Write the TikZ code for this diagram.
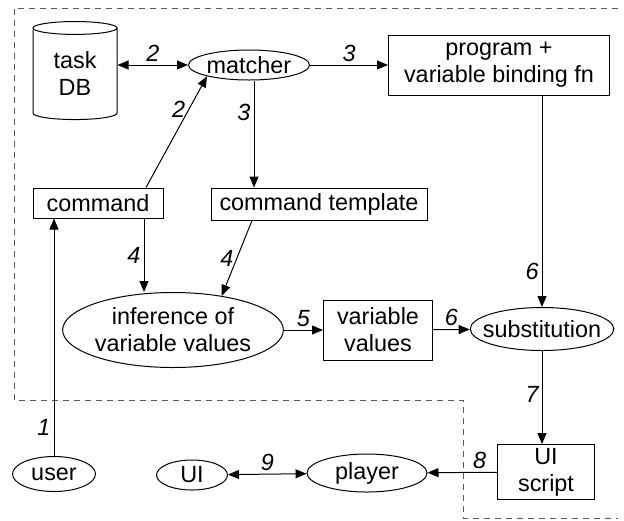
\documentclass[tikz,border=0pt]{standalone}
\usepackage{fontspec}
\setmainfont{Liberation Sans}
\usetikzlibrary{shapes.geometric,arrows.meta}

\begin{document}
\begin{tikzpicture}
	[x=0.5pt, y=-0.5pt, line width=0.5pt,
	font=\fontsize{11.7}{13.5}\selectfont,
	>={Triangle[length=5.5pt,width=4.5pt]},
	box/.style={rectangle,draw=black, inner sep=0pt, align=center},
	oval/.style={ellipse,draw=black, inner sep=0pt, align=center},
	store/.style={cylinder, shape border rotate=90, aspect=0.3, draw=black, inner sep=0pt, minimum width=42pt, minimum height=49pt, align=center},
	lbl/.style={font=\fontsize{11.7}{13.5}\selectfont\itshape, inner sep=1.5pt},
	frame/.style={dashed, dash pattern=on 3pt off 2.5pt, draw=black!65}]

	\useasboundingbox (0,0) rectangle (624,520);

	% inside the dashed frame
	\node (db) at ( 75,74 ) [store] {task\\DB};
	\node (mat) at ( 249,65 ) [oval, minimum width=60.5pt, minimum height=15pt] {matcher};
	\node (prog) at ( 499,65 ) [box, minimum width=110.5pt, minimum height=30pt] {program +\\variable binding fn};
	\node (cmd) at ( 98,203 ) [box, minimum width=65pt, minimum height=15pt] {command};
	\node (tmpl) at ( 319,204 ) [box, minimum width=108pt, minimum height=16pt] {command template};
	\node (inf) at ( 173,330 ) [oval, minimum width=109pt, minimum height=37.5pt] {inference of\\variable values};
	\node (vals) at ( 378,330 ) [box, minimum width=54.5pt, minimum height=30pt] {variable\\values};
	\node (subst) at ( 542,329 ) [oval, inner xsep=-4.2pt, minimum width=71.5pt, minimum height=21.5pt] {substitution};

	% outside
	\node (user) at ( 54,474 ) [oval, minimum width=41.5pt, minimum height=17.5pt] {user};
	\node (ui) at ( 192,475 ) [oval, minimum width=35.5pt, minimum height=15pt] {UI};
	\node (player) at ( 367,473 ) [oval, minimum width=60pt, minimum height=19pt] {player};
	\node (script) at ( 546,472 ) [box, minimum width=48.5pt, minimum height=27.5pt] {UI\\script};

	\draw [frame] (618,8) -- (14,8) -- (14,400) -- (463,400) -- (463,518) -- (618,518);

	\draw [->] (user) -- (user |- cmd.south) node[lbl, pos=0.12, left] {1};
	\draw [<->] (db.east |- mat) -- (mat) node[lbl, midway, above] {2};
	\draw [->] ([xshift=24pt]cmd.north) -- (mat.195) node[lbl, pos=0.7, left] {2};
	\draw [->] (mat) -- (prog) node[lbl, midway, above] {3};
	\draw [->] ([xshift=2.5pt]mat.south) -- ([xshift=2.5pt]mat.south |- tmpl.north) node[lbl, pos=0.3, left] {3};
	\draw [->] ([xshift=23pt]cmd.south) -- ([xshift=23pt]cmd.south |- inf.north) node[lbl, midway, left] {4};
	\draw [->] ([xshift=-33.5pt]tmpl.south) -- (inf.35) node[lbl, midway, left] {4};
	\draw [->] (inf) -- (vals) node[lbl, midway, above] {5};
	\draw [->] (vals) -- (subst) node[lbl, midway, above] {6};
	\draw [->] (subst |- prog.south) -- (subst) node[lbl, pos=0.83, left] {6};
	\draw [->] (subst) -- (subst |- script.north) node[lbl, pos=0.47, left] {7};
	\draw [->] (script) -- (player) node[lbl, pos=0.25, above] {8};
	\draw [<->] (ui) -- (player) node[lbl, midway, above] {9};

\end{tikzpicture}
\end{document}
